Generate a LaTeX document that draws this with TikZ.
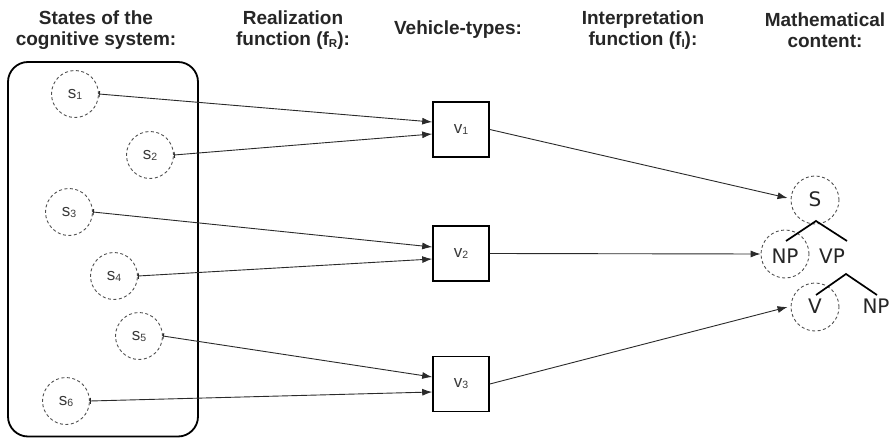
\documentclass[tikz,border=0pt]{standalone}
\usepackage{fontspec}
\setmainfont{Liberation Sans}
\newfontfamily\treefont{DejaVu Sans}
\usetikzlibrary{arrows.meta,calc}

\definecolor{hdr}{HTML}{262626}
\definecolor{lbl}{HTML}{3A3A3A}
\definecolor{dsh}{HTML}{505050}
\definecolor{ln}{HTML}{2A2A2A}

\newcommand{\lsub}[1]{\raisebox{-1pt}{\fontsize{10.5}{10.5}\selectfont #1}}
\newcommand{\hsub}[1]{\raisebox{-1.5pt}{\fontsize{11.5}{11.5}\selectfont #1}}

\tikzset{
  hdrtext/.style={font=\fontsize{19}{21}\selectfont\bfseries, text=hdr, align=center, inner sep=0pt},
  stnode/.style={circle, draw=dsh, dash pattern=on 3pt off 2.5pt, line width=0.9pt,
    minimum size=47pt, inner sep=0pt, text=lbl, font=\fontsize{17}{17}\selectfont},
  vbox/.style={rectangle, draw=black, line width=1.6pt, minimum width=56pt,
    minimum height=55pt, inner sep=0pt, text=lbl, font=\fontsize{17}{17}\selectfont},
  tcirc/.style={circle, draw=dsh, dash pattern=on 3pt off 2.5pt, line width=0.9pt,
    minimum size=48pt, inner sep=0pt},
  tlabel/.style={inner sep=0pt, text=hdr, font=\treefont\fontsize{20}{20}\selectfont},
  sysbox/.style={draw=black, line width=1.8pt, rounded corners=20pt, inner sep=0pt},
  conn/.style={draw=ln, line width=0.9pt, {Bar[width=6pt]}-{Latex[length=10pt,width=7pt]}},
  conn2/.style={draw=ln, line width=0.9pt, -{Latex[length=10pt,width=7pt]}},
  tree/.style={draw=black, line width=1.7pt}
}

\begin{document}
\begin{tikzpicture}[x=1pt,y=-1pt]
\useasboundingbox (0,0) rectangle (893,438);

% headers
\node[hdrtext] (h1) at (96,30.5) {States of the\\cognitive system:};
\node[hdrtext] (h2) at (293,30.5) {Realization\\function (f\hsub{R}):};
\node[hdrtext, anchor=base] (h3) at (458,34.5) {Vehicle-types:};
\node[hdrtext] (h4) at (643,30.5) {Interpretation\\function (f\hsub{I}):};
\node[hdrtext] (h5) at (825,30.5) {Mathematical\\content:};

% cognitive system box
\node[sysbox, minimum width=190pt, minimum height=374.5pt] (sys) at (103,249.25) {};

% states
\node[stnode] (s1) at (75,94) {s\lsub{1}};
\node[stnode] (s2) at (150,155) {s\lsub{2}};
\node[stnode] (s3) at (69,212) {s\lsub{3}};
\node[stnode] (s4) at (114,276) {s\lsub{4}};
\node[stnode] (s5) at (139,336) {s\lsub{5}};
\node[stnode] (s6) at (66,401) {s\lsub{6}};

% vehicle types
\node[vbox] (v1) at (461,129.5) {v\lsub{1}};
\node[vbox] (v2) at (461,253.5) {v\lsub{2}};
\node[vbox] (v3) at (461,384) {v\lsub{3}};

% mathematical content (tree)
\node[tcirc] (Sc) at (815,200) {};
\node[tcirc] (NPc) at (785,254) {};
\node[tcirc] (Vc) at (815,307) {};
\node[tlabel] (tS) at (815,199) {S};
\node[tlabel] (tNP) at (785,256) {NP};
\node[tlabel] (tVP) at (832,256) {VP};
\node[tlabel] (tV) at (815,306) {V};
\node[tlabel] (tNPb) at (876,306) {NP};

\coordinate (a1) at (816,221);
\coordinate (b1) at (786,241);
\coordinate (c1) at (847,241);
\coordinate (a2) at (846,274);
\coordinate (b2) at (816,295);
\coordinate (c2) at (877,295);
\draw[tree] (b1) -- (a1) -- (c1);
\draw[tree] (b2) -- (a2) -- (c2);

% realization function
\draw[conn] (s1.east) -- ([yshift=7.5pt]v1.west);
\draw[conn] (s2.east) -- ([yshift=-4.5pt]v1.west);
\draw[conn] (s3.east) -- ([yshift=6.5pt]v2.west);
\draw[conn] (s4.east) -- ([yshift=-5.5pt]v2.west);
\draw[conn] (s5.east) -- ([yshift=7pt]v3.west);
\draw[conn] (s6.east) -- ([yshift=-8pt]v3.west);

% interpretation function
\draw[conn2] (v1.east) -- ([xshift=-3pt,yshift=2pt]Sc.west);
\draw[conn2] (v2.east) -- (NPc.west);
\draw[conn2] (v3.east) -- ([xshift=-3pt]Vc.west);
\end{tikzpicture}
\end{document}
